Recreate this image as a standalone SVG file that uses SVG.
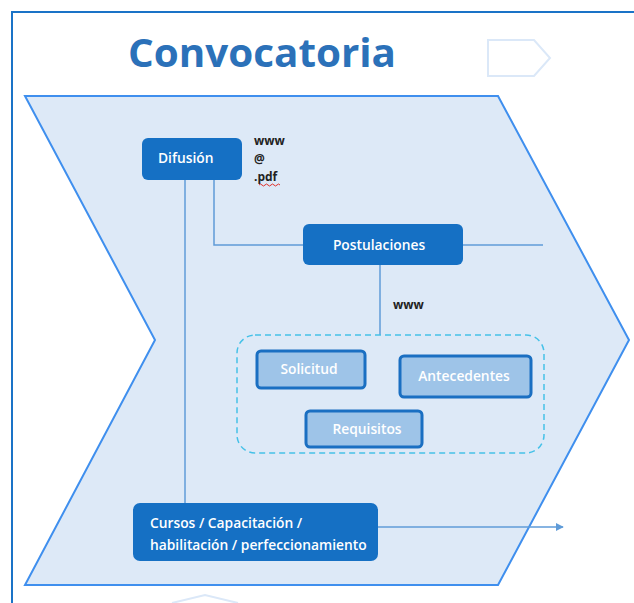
<svg xmlns="http://www.w3.org/2000/svg" width="634" height="603" viewBox="0 0 634 603">
<defs>
<style>
.frame{fill:none;stroke:#1a73c7;stroke-width:2}
.conn{fill:none;stroke:#5f9bd8;stroke-width:1.5}
.dark{fill:#1570c4}
.light{fill:#9ec4e8;stroke:#1a6fc2;stroke-width:3}
.lbl{font-family:"Open Sans","Liberation Sans",sans-serif;font-size:13.8px;font-weight:600;fill:#ffffff}
.note{font-family:"Open Sans","Liberation Sans",sans-serif;font-size:12px;font-weight:700;fill:#222222}
</style>
<marker id="arr" viewBox="0 0 10 10" refX="9" refY="5" markerWidth="8" markerHeight="8" markerUnits="userSpaceOnUse" orient="auto">
<path d="M0,0 L10,5 L0,10 z" fill="#5f9bd8"/>
</marker>
</defs>
<rect width="634" height="603" fill="#ffffff"/>
<path class="frame" d="M12,603 L12,12 L634,12"/>
<text x="262" y="67" text-anchor="middle" font-family="'Open Sans','Liberation Sans',sans-serif" font-size="40" font-weight="700" fill="#2b71b9" textLength="268" lengthAdjust="spacingAndGlyphs">Convocatoria</text>
<path d="M488,40 L534,40 L550,58 L534,76 L488,76 Z" fill="none" stroke="#dbe8f8" stroke-width="2"/>
<g id="chevron">
<path d="M25,96 L498,96 L629,340 L498,585 L25,585 L155,340 Z" fill="#dde9f7" stroke="#3f8fee" stroke-width="2"/>
</g>
<path d="M172,603 L205,595 L238,603" fill="none" stroke="#dbe8f8" stroke-width="2"/>
<g id="connectors">
<path class="conn" d="M185,180 L185,503"/>
<path class="conn" d="M214,180 L214,245 L303,245"/>
<path class="conn" d="M463,245 L543,245"/>
<path class="conn" d="M380,265 L380,335"/>
<path class="conn" d="M378,527 L563,527" marker-end="url(#arr)"/>
</g>
<g id="difusion">
<rect class="dark" x="142" y="138" width="100" height="42" rx="6"/>
<text class="lbl" x="158" y="163">Difusión</text>
</g>
<g id="difusion-notes">
<text class="note" x="254" y="145">www</text>
<text class="note" x="254" y="163">@</text>
<text class="note" x="254" y="181">.pdf</text>
<path d="M259,185 q1.5,-2 3,0 t3,0 t3,0 t3,0 t3,0 t3,0 t3,0" fill="none" stroke="#e0302a" stroke-width="1"/>
</g>
<g id="postulaciones">
<rect class="dark" x="303" y="224" width="160" height="41" rx="6"/>
<text class="lbl" x="379" y="250" text-anchor="middle">Postulaciones</text>
</g>
<text class="note" x="393" y="309">www</text>
<g id="grupo">
<rect x="237" y="335" width="307" height="118" rx="18" fill="none" stroke="#45c1e8" stroke-width="1.5" stroke-dasharray="6,4"/>
</g>
<g id="solicitud">
<rect class="light" x="257" y="351" width="108" height="37" rx="4"/>
<text class="lbl" x="309" y="374" text-anchor="middle">Solicitud</text>
</g>
<g id="antecedentes">
<rect class="light" x="400" y="356" width="131" height="41" rx="4"/>
<text class="lbl" x="464" y="381" text-anchor="middle">Antecedentes</text>
</g>
<g id="requisitos">
<rect class="light" x="306" y="411" width="116" height="36" rx="4"/>
<text class="lbl" x="367" y="434" text-anchor="middle">Requisitos</text>
</g>
<g id="cursos">
<rect class="dark" x="133" y="503" width="245" height="58" rx="7"/>
<text class="lbl" x="150" y="528">Cursos / Capacitación /</text>
<text class="lbl" x="150" y="550">habilitación / perfeccionamiento</text>
</g>
</svg>
